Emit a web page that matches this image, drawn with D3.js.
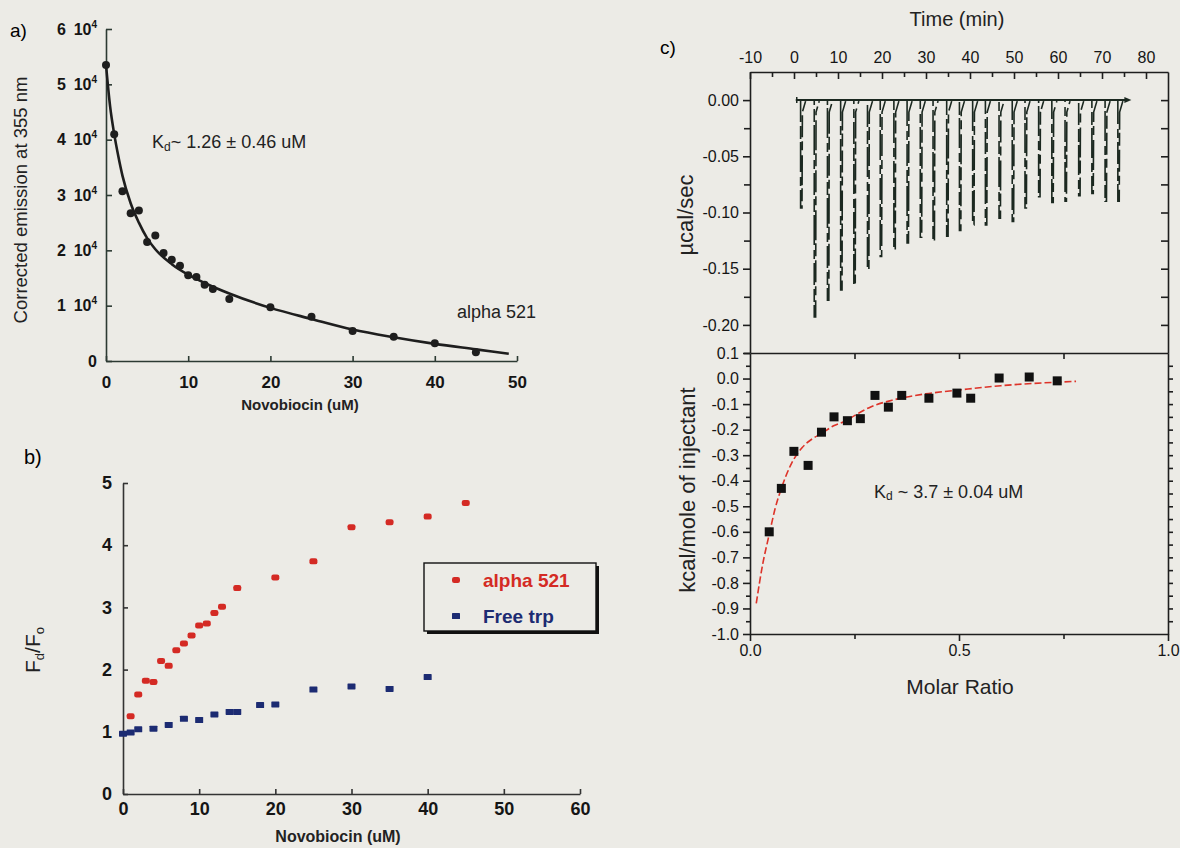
<!DOCTYPE html>
<html>
<head>
<meta charset="utf-8">
<script src="https://cdn.jsdelivr.net/npm/d3@7"></script>
<style>
  html, body { margin: 0; padding: 0; background: #ecebe6; }
  svg { display: block; font-family: "Liberation Sans", Arial, sans-serif; }
</style>
</head>
<body>
<svg id="fig" width="1180" height="848"></svg>
<script>
// ---------- Panel a: tryptophan emission quench vs novobiocin ----------
const aConc = [0, 1, 2, 3, 4, 5, 6, 7, 8, 9, 10, 11, 12, 13, 15, 20, 25, 30, 35, 40, 45];
const aEmission = [53500, 41000, 30700, 26700, 27200, 21500, 22700, 19500, 18300, 17200,
                   15500, 15200, 13800, 13000, 11200, 9700, 8000, 5400, 4400, 3200, 1600];
const aFitConc = [0, 0.5, 1, 1.5, 2, 3, 4, 5, 6, 8, 10, 12, 15, 20, 25, 30, 35, 40, 45, 49];
const aFitEmission = [53500, 46000, 41000, 37000, 33500, 28500, 25000, 22200, 20200, 17500,
                      15600, 14100, 12200, 9600, 7600, 5700, 4300, 3100, 2100, 1300];
const aXTicks = [0, 10, 20, 30, 40, 50];
const aYTicks = [0, 10000, 20000, 30000, 40000, 50000, 60000];

// ---------- Panel b: relative fluorescence ----------
const bConcAlpha = [1, 2, 3, 4, 5, 6, 7, 8, 9, 10, 11, 12, 13, 15, 20, 25, 30, 35, 40, 45];
const bRatioAlpha = [1.25, 1.60, 1.82, 1.80, 2.14, 2.06, 2.31, 2.42, 2.55, 2.71,
                     2.74, 2.91, 3.01, 3.31, 3.48, 3.74, 4.29, 4.37, 4.46, 4.68];
const bConcTrp = [0, 1, 2, 4, 6, 8, 10, 12, 14, 15, 18, 20, 25, 30, 35, 40];
const bRatioTrp = [0.97, 0.99, 1.04, 1.05, 1.11, 1.21, 1.19, 1.28, 1.32, 1.32,
                   1.43, 1.44, 1.68, 1.73, 1.69, 1.88];
const bXTicks = [0, 10, 20, 30, 40, 50, 60];
const bYTicks = [0, 1, 2, 3, 4, 5];
const bSeriesNames = ["alpha 521", "Free trp"];

// ---------- Panel c: ITC raw heat pulses and integrated heats ----------
const injTime = [1.5, 4.6, 7.6, 10.6, 13.6, 16.7, 19.6, 22.7, 25.7, 28.7, 31.6, 34.7, 37.6,
                 40.6, 43.5, 46.6, 49.6, 52.5, 55.6, 58.6, 61.6, 64.7, 67.7, 70.7, 73.6];
const injPeak = [-0.096, -0.193, -0.178, -0.169, -0.165, -0.151, -0.139, -0.133, -0.127,
                 -0.122, -0.125, -0.121, -0.116, -0.111, -0.111, -0.105, -0.108, -0.096,
                 -0.086, -0.091, -0.090, -0.085, -0.083, -0.090, -0.090];
const runSpan = [0.4, 76];
const timeTicks = [-10, 0, 10, 20, 30, 40, 50, 60, 70, 80];
const powerTicks = [0, -0.05, -0.10, -0.15, -0.20];

const molarRatio = [0.046, 0.075, 0.105, 0.139, 0.171, 0.201, 0.233, 0.264, 0.299, 0.331,
                    0.363, 0.428, 0.495, 0.528, 0.596, 0.668, 0.735];
const heat = [-0.60, -0.43, -0.285, -0.34, -0.21, -0.15, -0.165, -0.157, -0.066, -0.112,
              -0.066, -0.077, -0.057, -0.077, 0.002, 0.006, -0.009];
const fitRatio = [0.015, 0.03, 0.046, 0.06, 0.075, 0.1, 0.125, 0.15, 0.171, 0.2, 0.23, 0.25,
                  0.29, 0.34, 0.42, 0.5, 0.6, 0.7, 0.78];
const fitHeat = [-0.88, -0.73, -0.61, -0.51, -0.43, -0.33, -0.27, -0.235, -0.215, -0.185,
                 -0.165, -0.145, -0.11, -0.085, -0.06, -0.045, -0.028, -0.017, -0.011];
const ratioTicks = [0, 0.5, 1.0];
const heatTicks = [0.1, 0, -0.1, -0.2, -0.3, -0.4, -0.5, -0.6, -0.7, -0.8, -0.9, -1.0];

// ---------------------------------------------------------------
const svg = d3.select("#fig");
const bg = "#ecebe6";
const ink = "#1e1e1e";
const axisInk = "#2c3a33";
svg.append("rect").attr("width", 1180).attr("height", 848).attr("fill", bg);

function styleAxis(g, size, weight, color) {
  g.attr("font-family", null).attr("font-size", size).attr("font-weight", weight)
   .attr("color", color);
  g.selectAll("path, line").attr("stroke-width", 1.6);
  g.selectAll("text").attr("fill", "#151515");
}
const fmtSigned = (d, n) => (d < -1e-9 ? "-" : "") + Math.abs(d).toFixed(n);

// ===================== Panel a =====================
const xA = d3.scaleLinear().domain([0, 50]).range([106, 517]);
const yA = d3.scaleLinear().domain([0, 60000]).range([361, 29]);
const gA = svg.append("g");

gA.append("g").attr("transform", `translate(0,${yA(0)})`)
  .call(d3.axisBottom(xA).tickValues(aXTicks).tickSize(-5).tickSizeOuter(0).tickPadding(15)
    .tickFormat(d3.format("d")))
  .call(g => styleAxis(g, 17, "bold", axisInk));

gA.append("g").attr("transform", `translate(${xA(0)},0)`)
  .call(d3.axisLeft(yA).tickValues(aYTicks).tickSize(-6).tickSizeOuter(0).tickPadding(9))
  .call(g => styleAxis(g, 16, "bold", axisInk))
  .call(g => g.selectAll(".tick text").each(function (d) {
    const t = d3.select(this).text(null);
    if (d === 0) { t.text("0"); return; }
    t.append("tspan").text(`${d / 10000}\u2009 10`);
    t.append("tspan").attr("dy", -7).attr("font-size", 10).text("4");
  }));

gA.append("path")
  .datum(aFitConc.map((c, i) => [c, aFitEmission[i]]))
  .attr("fill", "none").attr("stroke", ink).attr("stroke-width", 2.6)
  .attr("d", d3.line().x(d => xA(d[0])).y(d => yA(d[1])).curve(d3.curveMonotoneX));

gA.selectAll("circle.pt").data(aConc.map((c, i) => [c, aEmission[i]])).join("circle")
  .attr("class", "pt").attr("cx", d => xA(d[0])).attr("cy", d => yA(d[1]))
  .attr("r", 4).attr("fill", ink);

gA.append("text").attr("x", 10).attr("y", 37).attr("font-size", 19).text("a)");
gA.append("text")
  .attr("transform", `translate(27,${(yA(0) + yA(60000)) / 2 + 5}) rotate(-90)`)
  .attr("text-anchor", "middle").attr("font-size", 18.5).attr("fill", "#222")
  .text("Corrected emission at 355 nm");
gA.append("text").attr("x", 300).attr("y", 410).attr("text-anchor", "middle")
  .attr("font-size", 15).attr("font-weight", "bold").attr("fill", "#222")
  .text("Novobiocin (uM)");

const kdA = gA.append("text").attr("x", 152).attr("y", 148).attr("font-size", 18).attr("fill", "#222");
kdA.append("tspan").text("K");
kdA.append("tspan").attr("font-size", 12).attr("dy", 3).text("d");
kdA.append("tspan").attr("dy", -3).text("~ 1.26 \u00b1 0.46 uM");
gA.append("text").attr("x", 457).attr("y", 318).attr("font-size", 18).attr("fill", "#222")
  .text("alpha 521");

// ===================== Panel b =====================
const xB = d3.scaleLinear().domain([0, 60]).range([123, 580]);
const yB = d3.scaleLinear().domain([0, 5]).range([794, 483]);
const gB = svg.append("g");
const red = "#d42a24", navy = "#1c2b72";

gB.append("g").attr("transform", `translate(0,${yB(0)})`)
  .call(d3.axisBottom(xB).tickValues(bXTicks).tickSize(-5).tickSizeOuter(0).tickPadding(8)
    .tickFormat(d3.format("d")))
  .call(g => styleAxis(g, 18, "bold", "#333"));
gB.append("g").attr("transform", `translate(${xB(0)},0)`)
  .call(d3.axisLeft(yB).tickValues(bYTicks).tickSize(-5).tickSizeOuter(0).tickPadding(11)
    .tickFormat(d3.format("d")))
  .call(g => styleAxis(g, 18, "bold", "#333"));

function markers(g, xs, ys, color, w, h, rx) {
  g.selectAll(null).data(xs.map((c, i) => [c, ys[i]])).join("rect")
    .attr("x", d => xB(d[0]) - w / 2).attr("y", d => yB(d[1]) - h / 2)
    .attr("width", w).attr("height", h).attr("rx", rx).attr("fill", color);
}
markers(gB, bConcAlpha, bRatioAlpha, red, 8, 6, 2.2);
markers(gB, bConcTrp, bRatioTrp, navy, 8, 6, 0.6);

gB.append("text").attr("x", 24).attr("y", 464).attr("font-size", 20).text("b)");
const yLabB = gB.append("text")
  .attr("transform", `translate(40,650) rotate(-90)`)
  .attr("text-anchor", "middle").attr("font-size", 21).attr("fill", "#222");
yLabB.append("tspan").text("F");
yLabB.append("tspan").attr("font-size", 13).attr("dy", 4).text("d");
yLabB.append("tspan").attr("dy", -4).text("/F");
yLabB.append("tspan").attr("font-size", 13).attr("dy", 4).text("o");
gB.append("text").attr("x", 338).attr("y", 842).attr("text-anchor", "middle")
  .attr("font-size", 16).attr("font-weight", "bold").attr("fill", "#222")
  .text("Novobiocin (uM)");

// legend with drop shadow
const lg = gB.append("g");
lg.append("rect").attr("x", 427).attr("y", 566).attr("width", 172).attr("height", 68).attr("fill", "#111");
lg.append("rect").attr("x", 424).attr("y", 563).attr("width", 172).attr("height", 68)
  .attr("fill", bg).attr("stroke", "#111").attr("stroke-width", 1.4);
[[red, 2.2], [navy, 0.6]].forEach(([c, rx], i) => {
  const yy = 580 + i * 36;
  lg.append("rect").attr("x", 452).attr("y", yy - 3).attr("width", 8).attr("height", 6)
    .attr("rx", rx).attr("fill", c);
  lg.append("text").attr("x", 483).attr("y", yy + 7).attr("font-size", 19)
    .attr("font-weight", "bold").attr("fill", c).text(bSeriesNames[i]);
});

// ===================== Panel c (top): raw ITC power =====================
const xT = d3.scaleLinear().domain([-10, 85]).range([750, 1168]);
const yT = d3.scaleLinear().domain([-0.225, 0.025]).range([353, 72]);
const gT = svg.append("g");

gT.append("g").attr("transform", `translate(0,${yT.range()[1]})`)
  .call(d3.axisTop(xT).tickValues(d3.range(-5, 85, 10)).tickSize(-5).tickFormat("").tickSizeOuter(0))
  .call(g => styleAxis(g, 16, "normal", ink)).call(g => g.select(".domain").remove());
gT.append("g").attr("transform", `translate(0,${yT.range()[1]})`)
  .call(d3.axisTop(xT).tickValues(timeTicks).tickSize(-7).tickPadding(9).tickSizeOuter(0)
    .tickFormat(d => fmtSigned(d, 0)))
  .call(g => styleAxis(g, 16, "normal", ink));
gT.append("g").attr("transform", `translate(${xT.range()[0]},0)`)
  .call(d3.axisLeft(yT).tickValues(powerTicks).tickSize(7).tickPadding(4).tickSizeOuter(0)
    .tickFormat(d => fmtSigned(d, 2)))
  .call(g => styleAxis(g, 16, "normal", ink));
gT.append("g").attr("transform", `translate(${xT.range()[0]},0)`)
  .call(d3.axisLeft(yT).tickValues(d3.range(-0.2125, 0.02, 0.05).map(v => v - 0.0125)).tickSize(6)
    .tickFormat("").tickSizeOuter(0))
  .call(g => styleAxis(g, 16, "normal", ink)).call(g => g.select(".domain").remove());
gT.append("g").attr("transform", `translate(${xT.range()[1]},0)`)
  .call(d3.axisRight(yT).tickValues(d3.range(-0.2, 0.02, 0.025)).tickSize(-7).tickFormat("").tickSizeOuter(0))
  .call(g => styleAxis(g, 16, "normal", ink));

// injection spikes: sharp deflection to the peak, quick return to baseline
const yb = yT(0);
gT.append("g").selectAll("path").data(injTime.map((t, i) => [t, injPeak[i]])).join("path")
  .attr("fill", "none").attr("stroke", "#1b2820").attr("stroke-width", 1.6)
  .attr("stroke-dasharray", "22 4 13 3 30 5 9 4")
  .attr("stroke-dashoffset", (d, i) => (i * 17) % 90)
  .attr("d", d => {
    const x0 = xT(d[0]), yp = yT(d[1]);
    return `M${x0},${yb} L${x0},${yp} L${x0 + 1.4},${yp} L${x0 + 1.8},${yb + 12} L${x0 + 5},${yb + 1}`;
  });
gT.append("line").attr("x1", xT(runSpan[0])).attr("x2", xT(runSpan[1]))
  .attr("y1", yb).attr("y2", yb).attr("stroke", "#1b2820").attr("stroke-width", 2);
gT.append("path").attr("fill", "#1b2820")
  .attr("d", `M${xT(runSpan[1]) + 3},${yb} L${xT(runSpan[1]) - 4},${yb - 3} L${xT(runSpan[1]) - 4},${yb + 3} Z`);
gT.append("line").attr("x1", xT(runSpan[0]) + 1).attr("x2", xT(runSpan[0]) + 1)
  .attr("y1", yb - 3).attr("y2", yb + 3).attr("stroke", "#1b2820").attr("stroke-width", 1.5);

gT.append("text").attr("x", 660).attr("y", 54).attr("font-size", 19).text("c)");
gT.append("text").attr("x", 957).attr("y", 26).attr("text-anchor", "middle")
  .attr("font-size", 20).attr("fill", "#222").text("Time (min)");
gT.append("text").attr("transform", `translate(693,215) rotate(-90)`)
  .attr("text-anchor", "middle").attr("font-size", 22).attr("fill", "#222").text("\u00b5cal/sec");

// ===================== Panel c (bottom): integrated heats =====================
const xM = d3.scaleLinear().domain([0, 1]).range([750, 1168]);
const yM = d3.scaleLinear().domain([-1.0, 0.1]).range([634, 353]);
const gM = svg.append("g");

gM.append("g").attr("transform", `translate(0,${yM(-1.0)})`)
  .call(d3.axisBottom(xM).tickValues(ratioTicks).tickSize(7).tickPadding(4).tickSizeOuter(0)
    .tickFormat(d => d.toFixed(1)))
  .call(g => styleAxis(g, 16, "normal", ink));
gM.append("g").attr("transform", `translate(0,${yM(-1.0)})`)
  .call(d3.axisBottom(xM).tickValues([0.25, 0.75]).tickSize(5).tickFormat("").tickSizeOuter(0))
  .call(g => styleAxis(g, 16, "normal", ink)).call(g => g.select(".domain").remove());
gM.append("g").attr("transform", `translate(0,${yM(0.1)})`)
  .call(d3.axisTop(xM).tickValues([0.25, 0.5, 0.75]).tickSize(-6).tickFormat("").tickSizeOuter(0))
  .call(g => styleAxis(g, 16, "normal", ink));
gM.append("g").attr("transform", `translate(${xM(0)},0)`)
  .call(d3.axisLeft(yM).tickValues(heatTicks).tickSize(7).tickPadding(4).tickSizeOuter(0)
    .tickFormat(d => fmtSigned(d, 1)))
  .call(g => styleAxis(g, 16, "normal", ink));
gM.append("g").attr("transform", `translate(${xM(0)},0)`)
  .call(d3.axisLeft(yM).tickValues(heatTicks.slice(1).map(v => v + 0.05)).tickSize(4).tickFormat("").tickSizeOuter(0))
  .call(g => styleAxis(g, 16, "normal", ink)).call(g => g.select(".domain").remove());
gM.append("g").attr("transform", `translate(${xM(1)},0)`)
  .call(d3.axisRight(yM).tickValues(d3.range(-0.95, 0.1, 0.05)).tickSize(5).tickFormat("").tickSizeOuter(0))
  .call(g => styleAxis(g, 16, "normal", ink));

gM.append("path")
  .datum(fitRatio.map((r, i) => [r, fitHeat[i]]))
  .attr("fill", "none").attr("stroke", "#dd3329").attr("stroke-width", 1.6)
  .attr("stroke-dasharray", "7 3")
  .attr("d", d3.line().x(d => xM(d[0])).y(d => yM(d[1])).curve(d3.curveMonotoneX));

gM.selectAll("rect.sq").data(molarRatio.map((r, i) => [r, heat[i]])).join("rect")
  .attr("class", "sq").attr("x", d => xM(d[0]) - 4.5).attr("y", d => yM(d[1]) - 4.5)
  .attr("width", 9).attr("height", 9).attr("fill", "#111");

const kdC = gM.append("text").attr("x", 874).attr("y", 498).attr("font-size", 18).attr("fill", "#222");
kdC.append("tspan").text("K");
kdC.append("tspan").attr("font-size", 12).attr("dy", 2).text("d");
kdC.append("tspan").attr("dy", -2).text(" ~ 3.7 \u00b1 0.04 uM");

gM.append("text").attr("x", 960).attr("y", 694).attr("text-anchor", "middle")
  .attr("font-size", 21).attr("fill", "#222").text("Molar Ratio");
gM.append("text").attr("transform", `translate(695,490) rotate(-90)`)
  .attr("text-anchor", "middle").attr("font-size", 22).attr("fill", "#222")
  .text("kcal/mole of injectant");
</script>
</body>
</html>
